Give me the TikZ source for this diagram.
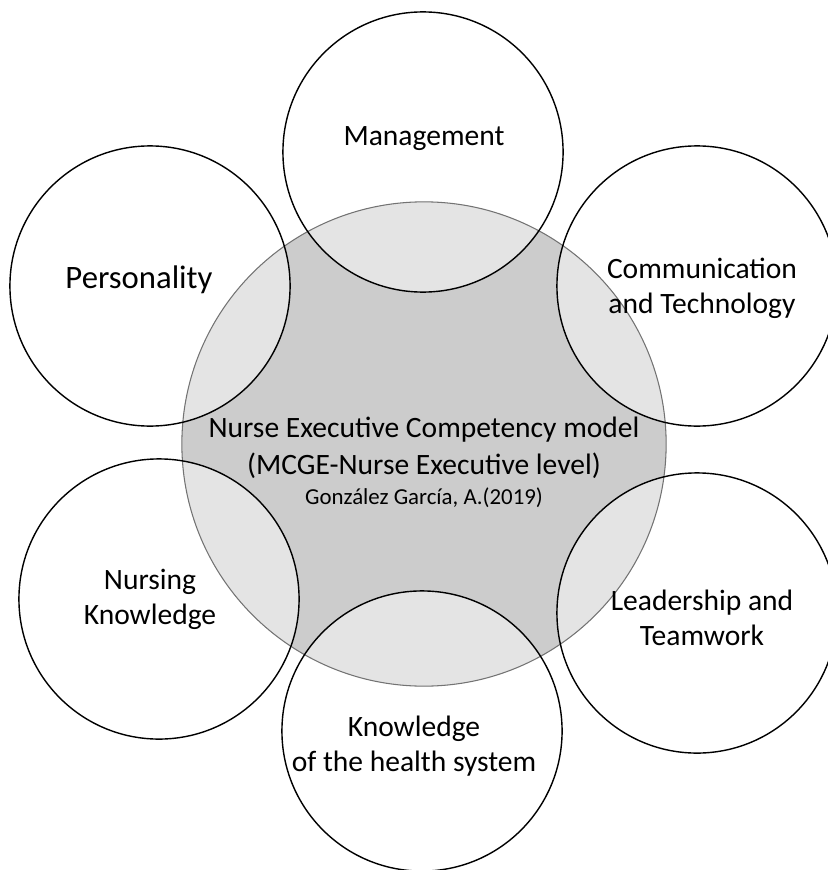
\documentclass[tikz,border=0pt]{standalone}
\usepackage{fontspec}
\setmainfont{Carlito}
\usetikzlibrary{positioning}
\definecolor{coregray}{gray}{0.80}
\definecolor{overlapgray}{gray}{0.895}
\definecolor{rimgray}{gray}{0.45}

\begin{document}
\begin{tikzpicture}[x=0.01cm, y=-0.01cm,
    area/.style={draw=black, line width=0.4pt},
    rim/.style={draw=rimgray, line width=0.3pt},
    label/.style={font=\fontsize{8.4}{10}\selectfont, align=center, inner sep=0pt}]

    \useasboundingbox (0,0) rectangle (827,870);

    % core circle
    \fill[coregray] (424,444) circle [radius=2.42cm];

    % light overlaps of the outer circles with the core
    \foreach \cx/\cy in {423/152, 150/286, 697/286, 159/599, 697/613, 422/731} {
        \begin{scope}
            \clip (424,444) circle [radius=2.42cm];
            \fill[overlapgray] (\cx,\cy) circle [radius=1.40cm];
        \end{scope}
    }
    \draw[rim] (424,444) circle [radius=2.42cm];

    % outer circles
    \foreach \cx/\cy in {423/152, 150/286, 697/286, 159/599, 697/613, 422/731} {
        \draw[area] (\cx,\cy) circle [radius=1.40cm];
    }

    % labels
    \node[label] (mgmt) at (424,139) {Management};
    \node[label, font=\fontsize{9.3}{11}\selectfont] (pers) at (139,280) {Personality};
    \node[label] (comm) at (702,288) {Communication\\and Technology};
    \node[label] (nurs) at (150,599) {Nursing\\Knowledge};
    \node[label] (lead) at (702,618) {Leadership and\\Teamwork};
    \node[label] (hlth) at (414,746) {Knowledge\\of the health system};
    \node[label, font=\fontsize{8.4}{10.5}\selectfont] (core) at (424,462)
        {Nurse Executive Competency model\\(MCGE-Nurse Executive level)\\[-2pt]
         {\fontsize{6.5}{8}\selectfont González García, A.(2019)}};
\end{tikzpicture}
\end{document}
